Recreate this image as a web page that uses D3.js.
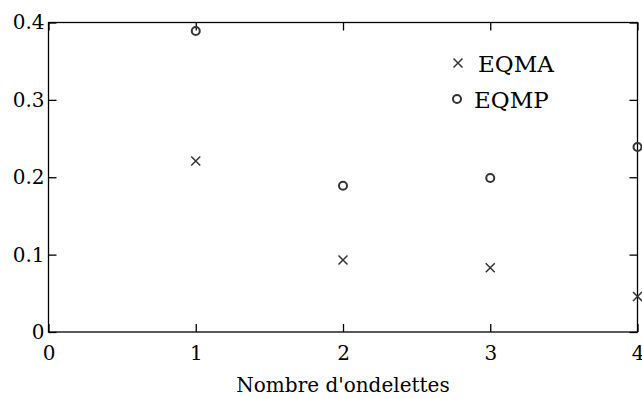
<!DOCTYPE html>
<html>
<head>
<meta charset="utf-8">
<script src="https://cdn.jsdelivr.net/npm/d3@7"></script>
<style>
body { margin: 0; background: #fff; }
text { font-family: "DejaVu Serif", "Liberation Serif", serif; fill: #000; }
</style>
</head>
<body>
<div id="chart"></div>
<script>
// nombre d'ondelettes
var nbOndelettes = [1, 2, 3, 4];
var eqma = [0.221, 0.093, 0.083, 0.046];
var eqmp = [0.389, 0.189, 0.199, 0.239];
var xTicks = [0, 1, 2, 3, 4];
var yTicks = [0, 0.1, 0.2, 0.3, 0.4];

var width = 642, height = 399;
var plotLeft = 48.5, plotRight = 637.5, plotTop = 22.5, plotBottom = 332;

var svg = d3.select("#chart").append("svg")
  .attr("width", width)
  .attr("height", height);

var x = d3.scaleLinear().domain([0, 4]).range([plotLeft, plotRight]);
var y = d3.scaleLinear().domain([0, 0.4]).range([plotBottom, plotTop]);

var tickLen = 8;

// axes with inward ticks
function axisStyle(g) {
  g.select(".domain").remove();
  g.selectAll("line").attr("stroke", "#000").attr("stroke-width", 1.3);
  g.selectAll("text").style("font-size", "20px").attr("fill", "#000");
}

svg.append("g").attr("transform", "translate(0," + plotBottom + ")")
  .call(d3.axisBottom(x).tickValues(xTicks).tickSizeInner(-tickLen).tickSizeOuter(0).tickPadding(14).tickFormat(d3.format("d")))
  .call(axisStyle);
svg.append("g").attr("transform", "translate(0," + plotTop + ")")
  .call(d3.axisTop(x).tickValues(xTicks).tickSizeInner(-tickLen).tickSizeOuter(0).tickFormat(""))
  .call(axisStyle);
svg.append("g").attr("transform", "translate(" + plotLeft + ",0)")
  .call(d3.axisLeft(y).tickValues(yTicks).tickSizeInner(-tickLen).tickSizeOuter(0).tickPadding(4).tickFormat(function(d) { return d === 0 ? "0" : d3.format(".1f")(d); }))
  .call(axisStyle);
svg.append("g").attr("transform", "translate(" + plotRight + ",0)")
  .call(d3.axisRight(y).tickValues(yTicks).tickSizeInner(-tickLen).tickSizeOuter(0).tickFormat(""))
  .call(axisStyle);

svg.append("rect")
  .attr("x", plotLeft).attr("y", plotTop)
  .attr("width", plotRight - plotLeft).attr("height", plotBottom - plotTop)
  .attr("fill", "none").attr("stroke", "#000").attr("stroke-width", 1.3);

svg.append("text")
  .attr("x", (plotLeft + plotRight) / 2).attr("y", 392)
  .attr("text-anchor", "middle")
  .style("font-size", "20px")
  .text("Nombre d'ondelettes");

var markColor = "#333";

function cross(g, cx, cy) {
  var s = 4.5;
  g.append("path")
    .attr("d", "M" + (cx - s) + "," + (cy - s) + "L" + (cx + s) + "," + (cy + s) +
               "M" + (cx - s) + "," + (cy + s) + "L" + (cx + s) + "," + (cy - s))
    .attr("stroke", markColor).attr("stroke-width", 1.5).attr("fill", "none");
}
function ring(g, cx, cy) {
  g.append("circle").attr("cx", cx).attr("cy", cy).attr("r", 4)
    .attr("stroke", markColor).attr("stroke-width", 2).attr("fill", "none");
}

var marks = svg.append("g");
nbOndelettes.forEach(function(n, i) {
  cross(marks, x(n), y(eqma[i]));
  ring(marks, x(n), y(eqmp[i]));
});

// legend
var leg = svg.append("g");
cross(leg, 458, 63);
leg.append("text").attr("x", 478).attr("y", 72).style("font-size", "23px").text("EQMA");
ring(leg, 457, 99);
leg.append("text").attr("x", 474).attr("y", 108).style("font-size", "23px").text("EQMP");
</script>
</body>
</html>
